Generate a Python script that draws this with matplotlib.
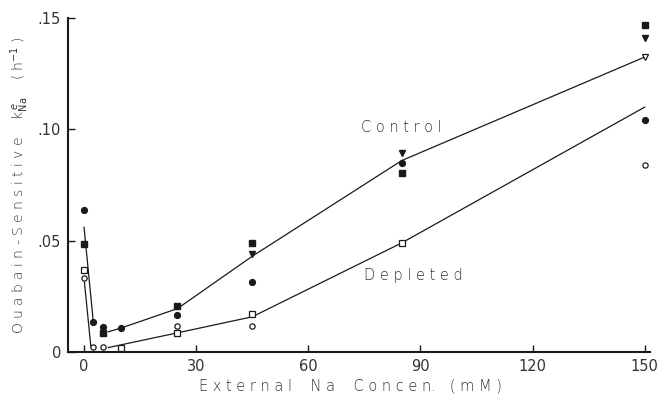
import matplotlib
matplotlib.use("Agg")
import matplotlib.pyplot as plt

# ---- data ----
ctrl_circle_x = [0, 2.5, 5, 10, 25, 45, 85, 150]
ctrl_circle_y = [0.064, 0.0135, 0.011, 0.0108, 0.0167, 0.0315, 0.0847, 0.104]
ctrl_square_x = [0, 5, 25, 45, 85, 150]
ctrl_square_y = [0.0486, 0.0086, 0.0207, 0.049, 0.0806, 0.1468]
ctrl_tri_x = [45, 85, 150]
ctrl_tri_y = [0.044, 0.0892, 0.141]

depl_tri_x = [150]
depl_tri_y = [0.1324]
depl_square_x = [0, 10, 25, 45, 85]
depl_square_y = [0.037, 0.0018, 0.0086, 0.017, 0.049]
depl_circle_x = [0, 2.5, 5, 25, 45, 150]
depl_circle_y = [0.0333, 0.0023, 0.0023, 0.0117, 0.0117, 0.084]

ctrl_steep_x = [0, 2.5]
ctrl_steep_y = [0.056, 0.0131]
ctrl_line_x = [6.5, 10, 25, 45, 85, 150]
ctrl_line_y = [0.0091, 0.0108, 0.0195, 0.043, 0.086, 0.1325]

depl_steep_x = [0, 1.8]
depl_steep_y = [0.033, 0.0027]
depl_line_x = [6.5, 25, 45, 85, 150]
depl_line_y = [0.002, 0.0086, 0.0158, 0.049, 0.110]

x_ticks = [0, 30, 60, 90, 120, 150]
y_ticks = [0, 0.05, 0.10, 0.15]
y_ticklabels = ["0", ".05", ".10", ".15"]

# ---- figure ----
ink = "#1a1a1a"
txt = "#333333"
plt.rcParams["font.family"] = ["DejaVu Sans"]
fig = plt.figure(figsize=(6.62, 3.97), dpi=100)
ax = fig.add_axes([0.1027, 0.1134, 0.879, 0.841])

lw = 0.9
ax.plot(ctrl_steep_x, ctrl_steep_y, color=ink, lw=lw)
ax.plot(ctrl_line_x, ctrl_line_y, color=ink, lw=lw)
ax.plot(depl_steep_x, depl_steep_y, color=ink, lw=lw)
ax.plot(depl_line_x, depl_line_y, color=ink, lw=lw)

ms = 4.2
ax.plot(ctrl_circle_x, ctrl_circle_y, "o", color=ink, ms=ms, ls="none")
ax.plot(ctrl_square_x, ctrl_square_y, "s", color=ink, ms=ms - 0.4, ls="none")
ax.plot(ctrl_tri_x, ctrl_tri_y, "v", color=ink, ms=ms + 0.3, ls="none")
ax.plot(depl_tri_x, depl_tri_y, "v", mfc="white", mec=ink, mew=0.9, ms=ms + 0.3, ls="none")
ax.plot(depl_square_x, depl_square_y, "s", mfc="white", mec=ink, mew=0.9, ms=ms - 0.4, ls="none")
ax.plot(depl_circle_x, depl_circle_y, "o", mfc="white", mec=ink, mew=0.9, ms=ms - 0.4, ls="none")

ax.set_xlim(-4.3, 151.4)
ax.set_ylim(0, 0.15)
for s in ["top", "right"]:
    ax.spines[s].set_visible(False)
for s in ["left", "bottom"]:
    ax.spines[s].set_linewidth(1.5)
    ax.spines[s].set_color(ink)

ax.set_xticks(x_ticks)
ax.set_xticklabels([str(v) for v in x_ticks])
ax.set_yticks(y_ticks)
ax.set_yticklabels(y_ticklabels)
ax.tick_params(axis="both", direction="in", length=5, width=1.0, colors=ink,
               labelsize=10.5, labelcolor=txt)
ax.tick_params(axis="x", pad=5)
ax.tick_params(axis="y", pad=5)

lab_kw = dict(color=txt, fontsize=10.5, fontweight="light")
fig.text(0.53, 1 - 386 / 397, "E x t e r n a l    N a    C o n c e n.   ( m M )",
         ha="center", va="center", **lab_kw)
fig.text(0.03, 1 - 185 / 397,
         r"O u a b a i n - S e n s i t i v e    k$^{\,e}_{\mathrm{Na}}$    ( h$^{-1}$ )",
         ha="center", va="center", rotation=90, color=txt, fontsize=10, fontweight="light")

ax.text(85, 0.101, "C o n t r o l", ha="center", va="center", **lab_kw)
ax.text(88, 0.0345, "D e p l e t e d", ha="center", va="center", **lab_kw)

fig.savefig("out.png", dpi=100)
